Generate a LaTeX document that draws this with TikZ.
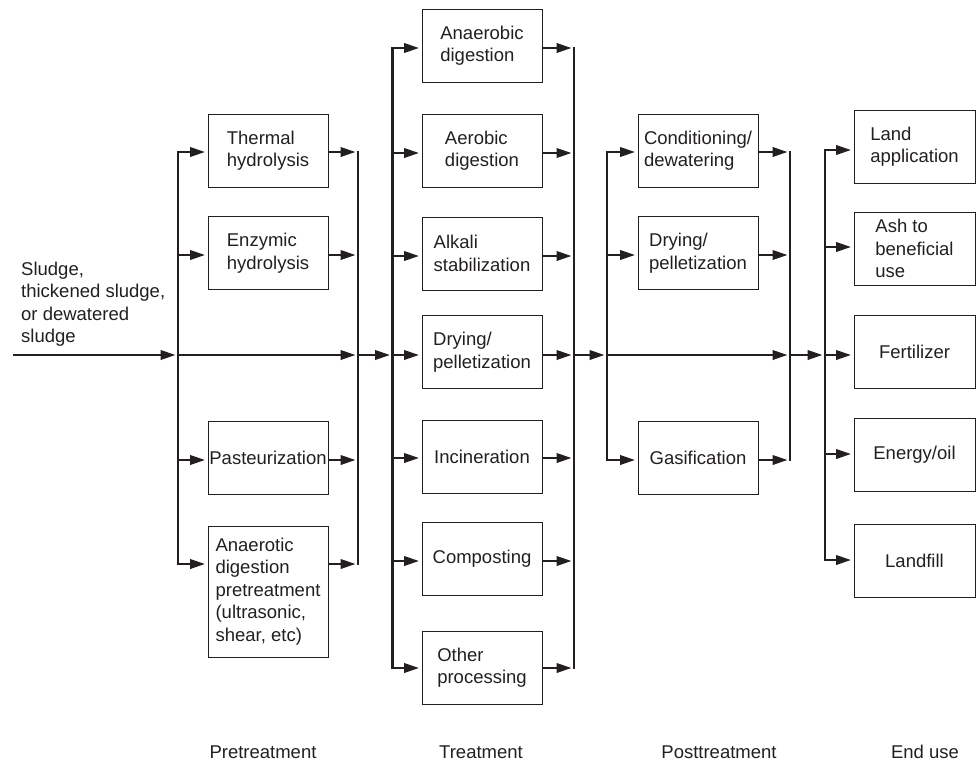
\documentclass[tikz,border=0pt]{standalone}
\usepackage{fontspec}
\setmainfont{Liberation Sans}
\usetikzlibrary{arrows.meta}
\definecolor{ink}{HTML}{231F20}
\begin{document}
\begin{tikzpicture}[x=1pt,y=-1pt,
  txt/.style={font=\fontsize{18.5}{22.5}\selectfont, text=ink},
  box/.style={txt, draw=ink, line width=1pt, minimum width=120pt,
    minimum height=73pt, align=left, inner sep=1pt},
  bus/.style={draw=ink, line width=2.3pt, line cap=rect},
  flow/.style={draw=ink, line width=2.3pt,
    -{Triangle[length=15pt,width=9.5pt]}, shorten >=2.5pt},
  stagename/.style={txt, inner sep=0pt, anchor=base}
]
\useasboundingbox (0,0) rectangle (978,761);

% ---------- input ----------
\node[txt, align=left, inner sep=0pt, anchor=west] (feed) at (21,304)
  {Sludge,\\thickened sludge,\\or dewatered\\sludge};
\coordinate (src) at (13,355);

% ---------- pretreatment ----------
\node[box] (thermal)  at (268,150.7) {Thermal\\hydrolysis};
\node[box] (enzymic)  at (268,253)   {Enzymic\\hydrolysis};
\node[box] (pasteur)  at (268,457.7) {Pasteurization};
\node[box, minimum height=131pt] (adpre) at (268,591.5)
  {Anaerotic\\digestion\\pretreatment\\(ultrasonic,\\shear, etc)};

\coordinate (pl1) at (178,152);   \coordinate (pr1) at (358,152);
\coordinate (pl2) at (178,255);   \coordinate (pr2) at (358,255);
\coordinate (plm) at (178,355);   \coordinate (prm) at (358,355);
\coordinate (pl3) at (178,460);   \coordinate (pr3) at (358,460);
\coordinate (pl4) at (178,564);   \coordinate (pr4) at (358,564);

\draw[bus] (pl1) -- (pl4);
\draw[bus] (pr1) -- (pr4);
\foreach \i/\b in {1/thermal,2/enzymic,3/pasteur,4/adpre}{
  \draw[flow] (pl\i) -- (pl\i -| \b.west);
  \draw[flow] (pl\i -| \b.east) -- (pr\i);
}
\draw[flow] (src) -- (plm);
\draw[flow] (plm) -- (prm);

% ---------- treatment ----------
\node[box] (anaer)   at (482,45.5)  {Anaerobic\\digestion};
\node[box] (aerob)   at (482,150.5) {Aerobic\\digestion};
\node[box] (alkali)  at (482,253.5) {Alkali\\stabilization};
\node[box] (dryt)    at (482,352)   {Drying/\\pelletization};
\node[box] (incin)   at (482,456.5) {Incineration};
\node[box] (compost) at (482,558.5) {Composting};
\node[box] (other)   at (482,667.5) {Other\\processing};

\coordinate (tl1) at (392.5,48);   \coordinate (tr1) at (574,48);
\coordinate (tl2) at (392.5,153);  \coordinate (tr2) at (574,153);
\coordinate (tl3) at (392.5,256);  \coordinate (tr3) at (574,256);
\coordinate (tl4) at (392.5,355);  \coordinate (tr4) at (574,355);
\coordinate (tl5) at (392.5,458);  \coordinate (tr5) at (574,458);
\coordinate (tl6) at (392.5,561);  \coordinate (tr6) at (574,561);
\coordinate (tl7) at (392.5,668);  \coordinate (tr7) at (574,668);

\draw[bus] (tl1) -- (tl7);
\draw[bus] (tr1) -- (tr7);
\foreach \i/\b in {1/anaer,2/aerob,3/alkali,4/dryt,5/incin,6/compost,7/other}{
  \draw[flow] (tl\i) -- (tl\i -| \b.west);
  \draw[flow] (tl\i -| \b.east) -- (tr\i);
}
\draw[flow] (prm) -- (tl4);

% ---------- posttreatment ----------
\node[box] (cond)  at (698,150.7) {Conditioning/\\dewatering};
\node[box] (dryp)  at (698,253)   {Drying/\\pelletization};
\node[box] (gasif) at (698,457.7) {Gasification};

\coordinate (ql1) at (607,152);  \coordinate (qr1) at (790,152);
\coordinate (ql2) at (607,255);  \coordinate (qr2) at (790,255);
\coordinate (qlm) at (607,355);  \coordinate (qrm) at (790,355);
\coordinate (ql3) at (607,460);  \coordinate (qr3) at (790,460);

\draw[bus] (ql1) -- (ql3);
\draw[bus] (qr1) -- (qr3);
\foreach \i/\b in {1/cond,2/dryp,3/gasif}{
  \draw[flow] (ql\i) -- (ql\i -| \b.west);
  \draw[flow] (ql\i -| \b.east) -- (qr\i);
}
\draw[flow] (tr4) -- (qlm);
\draw[flow] (qlm) -- (qrm);

% ---------- end use ----------
\node[box, minimum width=121pt] (land)  at (914.5,146.5) {Land\\application};
\node[box, minimum width=121pt] (ash)   at (914.5,248.5) {Ash to\\beneficial\\use};
\node[box, minimum width=121pt] (fert)  at (914.5,351.5) {Fertilizer};
\node[box, minimum width=121pt] (energy) at (914.5,454.5) {Energy/oil};
\node[box, minimum width=121pt] (fill)  at (914.5,560.5) {Landfill};

\coordinate (e1) at (825,150);
\coordinate (e2) at (825,247);
\coordinate (e3) at (825,355);
\coordinate (e4) at (825,454);
\coordinate (e5) at (825,560);

\draw[bus] (e1) -- (e5);
\foreach \i/\b in {1/land,2/ash,3/fert,4/energy,5/fill}{
  \draw[flow] (e\i) -- (e\i -| \b.west);
}
\draw[flow] (qrm) -- (e3);

% ---------- stage captions ----------
\node[stagename] (s1) at (263,758) {Pretreatment};
\node[stagename] (s2) at (481,758) {Treatment};
\node[stagename] (s3) at (719,758) {Posttreatment};
\node[stagename] (s4) at (925,758) {End use};
\end{tikzpicture}
\end{document}
